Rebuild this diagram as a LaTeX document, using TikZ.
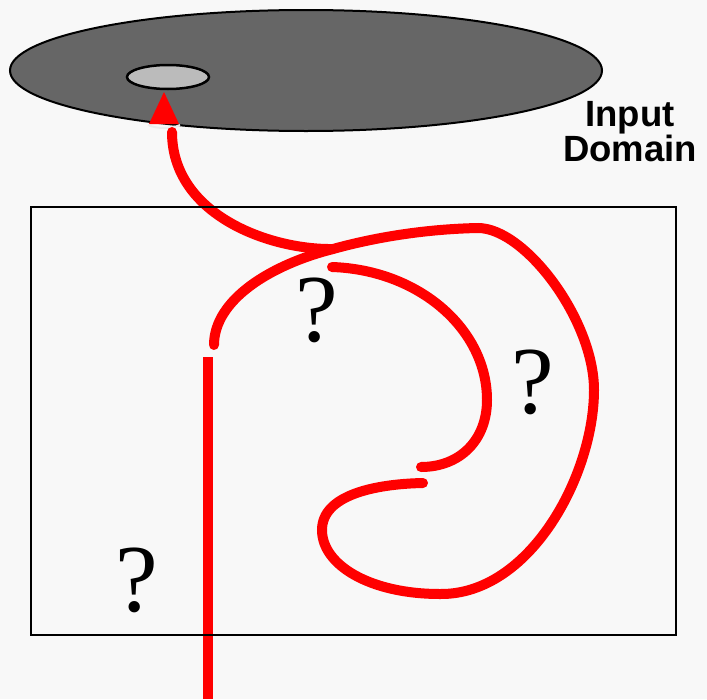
\documentclass[tikz,border=0pt]{standalone}
\usepackage{fontspec}
\usetikzlibrary{shapes.geometric}
\newfontfamily\labelfont{Liberation Sans}
\newfontfamily\qfont{Liberation Serif}
\definecolor{bgc}{HTML}{F8F8F8}
\definecolor{disk}{HTML}{666666}
\definecolor{spot}{HTML}{BBBBBB}
\definecolor{pathred}{HTML}{FF0000}
\tikzset{
  redpath/.style={draw=pathred, line width=10pt, line cap=round},
  qmark/.style={inner sep=0pt, font=\qfont\fontsize{96}{96}\selectfont},
  domainlabel/.style={inner sep=0pt, align=center, font=\labelfont\bfseries\fontsize{36.5}{35}\selectfont},
}
\begin{document}
\begin{tikzpicture}[x=1pt,y=-1pt]
\fill[bgc] (0,0) rectangle (707,699);
\useasboundingbox (0,0) rectangle (707,699);
% input domain
\node[draw=black, line width=2pt, fill=disk, ellipse, minimum width=592pt, minimum height=121pt, inner sep=0pt] (domain) at (306,70.5) {};
\node[draw=black, line width=2.5pt, fill=spot, ellipse, minimum width=82pt, minimum height=24pt, inner sep=0pt] (target) at (168,77) {};
\node[domainlabel, anchor=north] (lbl) at (630,101) {Input\\Domain};
% arrow head
\coordinate (tip) at (164,92);
\coordinate (bl) at (149,124);
\coordinate (br) at (179,124);
\fill[pathred] (tip) -- (bl) -- (br) -- cycle;
\draw[color=bgc!90!gray, line width=2pt] (148,125) .. controls (157,129) and (171,129) .. (180,125);
% named points of the path
\coordinate (astart) at (172,132);
\coordinate (junc) at (333,249);
\coordinate (lstart) at (214,345);
\coordinate (ctop) at (478,228);
\coordinate (cright) at (594,390);
\coordinate (cbot) at (440,594);
\coordinate (cleft) at (322,530);
\coordinate (cend) at (423,483);
\coordinate (istart) at (332,267);
\coordinate (iright) at (487,400);
\coordinate (iend) at (421,467);
\coordinate (vtop) at (208,357);
\coordinate (vbot) at (208,699);
% red paths
\draw[redpath] (astart) .. controls (172,215) and (270,250) .. (junc);
\draw[redpath] (lstart) .. controls (214,300) and (270,265) .. (junc)
  .. controls (380,236) and (430,229) .. (ctop)
  .. controls (525,228) and (594,320) .. (cright)
  .. controls (594,475) and (530,595) .. (cbot)
  .. controls (370,594) and (322,565) .. (cleft)
  .. controls (322,495) and (375,484) .. (cend);
\draw[redpath] (istart) .. controls (420,270) and (487,330) .. (iright)
  .. controls (487,440) and (460,467) .. (iend);
\draw[draw=pathred, line width=10pt, line cap=butt] (vtop) -- (vbot);
% frame
\draw[black, line width=2pt] (31,207) rectangle (676,635);
% question marks
\node[qmark] (q1) at (317,310) {?};
\node[qmark] (q2) at (533,382) {?};
\node[qmark] (q3) at (137,580) {?};
\end{tikzpicture}
\end{document}
